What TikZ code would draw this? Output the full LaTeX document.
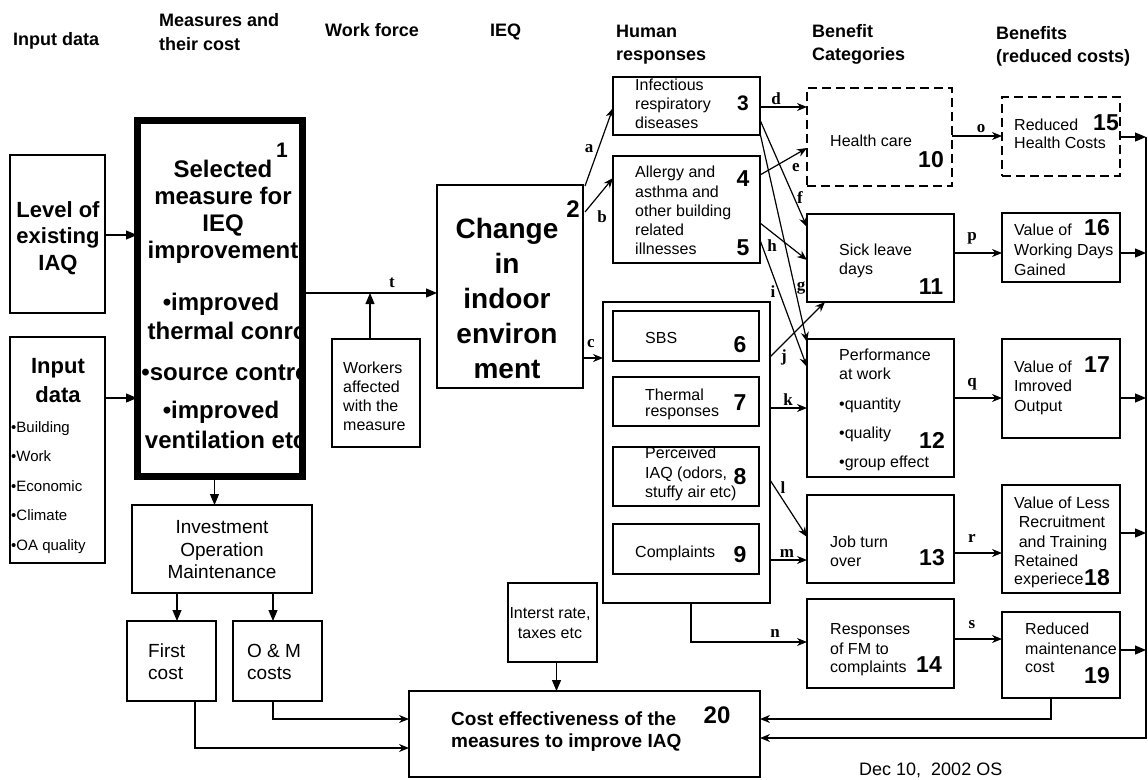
\documentclass[tikz,border=0pt]{standalone}
\usepackage{fontspec}
\setmainfont{Liberation Sans}
\newfontfamily\labfont{Liberation Serif}
\usetikzlibrary{arrows.meta,calc,fit}
\begin{document}
\begin{tikzpicture}[x=1pt,y=-1pt,
  box/.style={draw, line width=2.2pt, inner sep=0pt, outer sep=0pt},
  dbox/.style={box, dash pattern=on 9pt off 5pt},
  ibox/.style={draw, line width=1.6pt, inner sep=0pt, outer sep=0pt},
  hd/.style={font=\bfseries\fontsize{18}{18}\selectfont, anchor=base west, inner sep=0pt},
  sm/.style={font=\fontsize{16}{16}\selectfont, anchor=base west, inner sep=0pt},
  smc/.style={font=\fontsize{16}{16}\selectfont, anchor=base, inner sep=0pt},
  mid/.style={font=\fontsize{19}{19}\selectfont, anchor=base, inner sep=0pt},
  midl/.style={font=\fontsize{19}{19}\selectfont, anchor=base west, inner sep=0pt},
  bigb/.style={font=\bfseries\fontsize{22}{22}\selectfont, anchor=base, inner sep=0pt},
  mb/.style={font=\bfseries\fontsize{24}{24}\selectfont, anchor=base, inner sep=0pt},
  cb/.style={font=\bfseries\fontsize{28}{28}\selectfont, anchor=base, inner sep=0pt},
  num/.style={font=\bfseries\fontsize{23}{23}\selectfont, anchor=base, inner sep=0pt},
  lab/.style={font=\labfont\bfseries\fontsize{17}{17}\selectfont, inner sep=0pt},
  arr/.style={line width=1.2pt, -{Stealth[length=10pt,width=8pt]}},
  tarr/.style={line width=1.2pt, -{Triangle[length=11pt,width=9pt]}},
  ln/.style={line width=1.2pt}
]
\useasboundingbox (0,0) rectangle (1148,779);

% ---------- headers ----------
\node[hd] (h1) at (13,45) {Input data};
\node[hd] (h2a) at (159,26) {Measures and};
\node[hd] (h2b) at (159,50) {their cost};
\node[hd] (h3) at (325,36) {Work force};
\node[hd] (h4) at (490,36) {IEQ};
\node[hd] (h5a) at (616,37) {Human};
\node[hd] (h5b) at (616,60) {responses};
\node[hd] (h6a) at (812,37) {Benefit};
\node[hd] (h6b) at (812,60) {Categories};
\node[hd] (h7a) at (996,39) {Benefits};
\node[hd] (h7b) at (996,62) {(reduced costs)};

% ---------- boxes ----------
\node[box, fit={(10,155)(105,313)}] (L) {};
\node[box, fit={(10,337)(105,563)}] (I) {};
\node[box, line width=7pt, fit={(137,120)(302,476)}] (B1) {};
\node[box, fit={(437,185)(583,388)}] (B2) {};
\node[box, fit={(332,339)(420,447)}] (W) {};
\node[box, fit={(132,505)(312,593)}] (INV) {};
\node[box, fit={(127,621)(216,701)}] (FC) {};
\node[box, fit={(233,621)(322,701)}] (OM) {};
\node[box, fit={(508,583)(597,662)}] (IR) {};
\node[box, fit={(409,691)(760,777)}] (B20) {};
\node[box, fit={(613,77)(760,135)}] (B3) {};
\node[box, fit={(613,156)(760,263)}] (B4) {};
\node[box, fit={(603,302)(770,603)}] (C) {};
\node[ibox, fit={(613,311)(759,361)}] (B6) {};
\node[ibox, fit={(613,377)(759,426)}] (B7) {};
\node[ibox, fit={(613,447)(759,506)}] (B8) {};
\node[ibox, fit={(613,524)(759,574)}] (B9) {};
\node[dbox, fit={(807,88)(952,186)}] (B10) {};
\node[box, fit={(807,214)(954,302)}] (B11) {};
\node[box, fit={(807,339)(954,477)}] (B12) {};
\node[box, fit={(807,495)(954,583)}] (B13) {};
\node[box, fit={(807,599)(954,688)}] (B14) {};
\node[dbox, fit={(1002,97)(1120,176)}] (B15) {};
\node[box, fit={(1002,213)(1120,282)}] (B16) {};
\node[box, fit={(1002,339)(1120,438)}] (B17) {};
\node[box, fit={(1002,485)(1120,593)}] (B18) {};
\node[box, fit={(1002,612)(1120,698)}] (B19) {};

% ---------- texts ----------
\node[bigb] (tL1) at (58,217) {Level of};
\node[bigb] (tL2) at (58,243) {existing};
\node[bigb] (tL3) at (58,270) {IAQ};
\node[bigb] (tI1) at (58,373) {Input};
\node[bigb] (tI2) at (58,402) {data};
\begin{scope}[every node/.style={font=\fontsize{15}{15}\selectfont, anchor=base west, inner sep=0pt}]
\node (tI3) at (11,432) {•Building};
\node (tI4) at (11,461) {•Work};
\node (tI5) at (11,491) {•Economic};
\node (tI6) at (11,520) {•Climate};
\node (tI7) at (11,550) {•OA quality};
\end{scope}

\begin{scope}
\clip (B1.south west) rectangle (B1.north east);
\node[mb] (t11) at (223,177) {Selected};
\node[mb] (t12) at (223,204) {measure for};
\node[mb] (t13) at (223,231) {IEQ};
\node[mb] (t14) at (223,258) {improvement};
\node[mb] (t15) at (221,310) {•improved};
\node[mb] (t16) at (231,339) {thermal conrol};
\node[mb] (t17) at (229,380) {•source control};
\node[mb] (t18) at (221,418) {•improved};
\node[mb] (t19) at (229,448) {ventilation etc.};
\end{scope}
\node[font=\bfseries\fontsize{21}{21}\selectfont, anchor=base, inner sep=0pt] (n1) at (282,157) {1};

\node[cb] (t21) at (507,238) {Change};
\node[cb] (t22) at (507,273) {in};
\node[cb] (t23) at (507,308) {indoor};
\node[cb] (t24) at (507,343) {environ};
\node[cb] (t25) at (507,378) {ment};
\node[font=\bfseries\fontsize{24}{24}\selectfont, anchor=base, inner sep=0pt] (n2) at (573,217) {2};

\node[sm] (tW1) at (343,373) {Workers};
\node[sm] (tW2) at (343,392) {affected};
\node[sm] (tW3) at (343,411) {with the};
\node[sm] (tW4) at (343,430) {measure};

\node[mid] (tV1) at (222,533) {Investment};
\node[mid] (tV2) at (222,556) {Operation};
\node[mid] (tV3) at (222,578) {Maintenance};
\node[midl] (tF1) at (148,657) {First};
\node[midl] (tF2) at (148,679) {cost};
\node[midl] (tO1) at (247,657) {O \& M};
\node[midl] (tO2) at (247,679) {costs};
\node[smc] (tR1) at (550,618) {Interst rate,};
\node[smc] (tR2) at (550,638) {taxes etc};
\node[font=\bfseries\fontsize{19}{19}\selectfont, anchor=base west, inner sep=0pt] (t201) at (451,725) {Cost effectiveness of the};
\node[font=\bfseries\fontsize{19}{19}\selectfont, anchor=base west, inner sep=0pt] (t202) at (451,747) {measures to improve IAQ};
\node[font=\bfseries\fontsize{24}{24}\selectfont, anchor=base, inner sep=0pt] (n20) at (717,723) {20};
\node[font=\fontsize{18}{18}\selectfont, anchor=base west, inner sep=0pt] (date) at (859,775) {Dec 10,\ \ 2002 OS};

\node[sm] (t31) at (635,90) {Infectious};
\node[sm] (t32) at (635,109) {respiratory};
\node[sm] (t33) at (635,128) {diseases};
\node[font=\bfseries\fontsize{21}{21}\selectfont, anchor=base, inner sep=0pt] (n3) at (743,110) {3};
\node[sm] (t41) at (635,177) {Allergy and};
\node[sm] (t42) at (635,197) {asthma and};
\node[sm] (t43) at (635,216) {other building};
\node[sm] (t44) at (635,235) {related};
\node[sm] (t45) at (635,254) {illnesses};
\node[num] (n4) at (743,186) {4};
\node[num] (n5) at (743,255) {5};
\node[sm] (t6) at (645,343) {SBS};
\node[num] (n6) at (740,352) {6};
\node[sm] (t71) at (645,400) {Thermal};
\node[sm] (t72) at (645,416) {responses};
\node[num] (n7) at (740,410) {7};
\node[sm] (t81) at (645,458) {Perceived};
\node[sm] (t82) at (645,478) {IAQ (odors,};
\node[sm] (t83) at (645,497) {stuffy air etc)};
\node[num] (n8) at (740,484) {8};
\node[sm] (t9) at (635,557) {Complaints};
\node[num] (n9) at (740,562) {9};

\node[sm] (t10) at (830,146) {Health care};
\node[num] (n10) at (931,167) {10};
\node[sm] (t111) at (839,255) {Sick leave};
\node[sm] (t112) at (839,274) {days};
\node[num] (n11) at (931,294) {11};
\node[sm] (t121) at (839,360) {Performance};
\node[sm] (t122) at (839,379) {at work};
\node[sm] (t123) at (839,409) {•quantity};
\node[sm] (t124) at (839,438) {•quality};
\node[sm] (t125) at (839,467) {•group effect};
\node[num] (n12) at (932,448) {12};
\node[sm] (t131) at (830,547) {Job turn};
\node[sm] (t132) at (830,566) {over};
\node[num] (n13) at (932,565) {13};
\node[sm] (t141) at (830,634) {Responses};
\node[sm] (t142) at (830,654) {of FM to};
\node[sm] (t143) at (830,672) {complaints};
\node[num] (n14) at (929,672) {14};

\node[sm] (t151) at (1014,130) {Reduced};
\node[sm] (t152) at (1014,148) {Health Costs};
\node[num] (n15) at (1106,130) {15};
\node[sm] (t161) at (1014,235) {Value of};
\node[sm] (t162) at (1014,255) {Working Days};
\node[sm] (t163) at (1014,275) {Gained};
\node[num] (n16) at (1097,235) {16};
\node[sm] (t171) at (1014,372) {Value of};
\node[sm] (t172) at (1014,391) {Imroved};
\node[sm] (t173) at (1014,411) {Output};
\node[num] (n17) at (1097,372) {17};
\node[smc] (t181) at (1062,508) {Value of Less};
\node[smc] (t182) at (1062,527) {Recruitment};
\node[smc] (t183) at (1063,547) {and Training};
\node[sm] (t184) at (1014,566) {Retained};
\node[sm] (t185) at (1014,584) {experiece};
\node[num] (n18) at (1097,585) {18};
\node[sm] (t191) at (1025,634) {Reduced};
\node[sm] (t192) at (1025,654) {maintenance};
\node[sm] (t193) at (1025,672) {cost};
\node[num] (n19) at (1097,683) {19};

% ---------- connectors ----------
\draw[tarr] ($(L.north east)+(0,80)$) coordinate (pL) -- (B1.west |- pL);
\draw[tarr] ($(I.north east)+(0,61)$) coordinate (pI) -- (B1.west |- pI);
\draw[tarr] ($(B1.north east)+(0,173)$) coordinate (pT) -- (B2.west |- pT);
\draw[tarr] ($(W.north)+(-6,0)$) coordinate (pW) -- (pW |- pT);
\draw[tarr] ($(B1.south)+(-5,0)$) coordinate (pB1) -- (pB1 |- INV.north);
\draw[tarr] ($(INV.south west)+(45,0)$) coordinate (pV1) -- (pV1 |- FC.north);
\draw[tarr] ($(INV.south west)+(141,0)$) coordinate (pV2) -- (pV2 |- OM.north);
\draw[tarr] ($(IR.south)+(4,0)$) coordinate (pR) -- (pR |- B20.north);
\draw[arr] ($(OM.south west)+(40,0)$) |- ($(B20.north west)+(0,28)$);
\draw[arr] ($(FC.south west)+(68,0)$) |- ($(B20.north west)+(0,57)$);
\draw[arr] ($(B19.south west)+(49,0)$) |- ($(B20.north east)+(0,28)$);
\coordinate (RT) at (1146,137);
\coordinate (RB) at (1146,738);
\draw[arr] (RT) -- (RB) -- (B20.east |- RB);
\draw[tarr] ($(B15.north east)+(0,40)$) coordinate (o15) -- (RT |- o15);
\draw[tarr] ($(B16.north east)+(0,40)$) coordinate (o16) -- (RT |- o16);
\draw[tarr] ($(B17.north east)+(0,59)$) coordinate (o17) -- (RT |- o17);
\draw[tarr] ($(B18.north east)+(0,48)$) coordinate (o18) -- (RT |- o18);
\draw[tarr] ($(B19.north east)+(0,38)$) coordinate (o19) -- (RT |- o19);

\draw[arr] ($(B2.north east)+(2,1)$) -- ($(B3.north west)+(0,31)$);
\draw[arr] ($(B2.north east)+(2,27)$) -- ($(B4.north west)+(0,22)$);
\draw[arr] ($(B2.north east)+(0,173)$) coordinate (pc) -- (C.west |- pc);
\draw[arr] ($(B3.north east)+(0,30)$) coordinate (pd) -- (B10.west |- pd);
\draw[arr] ($(B4.north east)+(0,19)$) -- ($(B10.north west)+(0,60)$);
\draw[arr] ($(B3.north east)+(0,43)$) -- ($(B11.north west)+(0,13)$);
\draw[arr] ($(B3.north east)+(0,56)$) -- ($(B12.north west)+(0,3)$);
\draw[arr] ($(B4.north east)+(0,67)$) -- ($(B11.north west)+(0,46)$);
\draw[arr] ($(B4.north east)+(0,84)$) -- ($(B12.north west)+(0,28)$);
\draw[arr] ($(C.north east)+(0,55)$) -- ($(B11.south west)+(18,0)$);
\draw[arr] ($(C.north east)+(0,106)$) coordinate (pk) -- (B12.west |- pk);
\draw[arr] ($(C.north east)+(0,178)$) -- ($(B13.north west)+(0,42)$);
\draw[arr] ($(C.north east)+(0,258)$) coordinate (pm) -- (B13.west |- pm);
\draw[arr] ($(C.south west)+(88,0)$) |- ($(B14.north west)+(0,43)$);
\draw[arr] ($(B10.north east)+(0,48)$) coordinate (po) -- (B15.west |- po);
\draw[arr] ($(B11.north east)+(0,39)$) coordinate (pp) -- (B16.west |- pp);
\draw[arr] ($(B12.north east)+(0,59)$) coordinate (pq) -- (B17.west |- pq);
\draw[arr] ($(B13.north east)+(0,58)$) coordinate (pr) -- (B18.west |- pr);
\draw[arr] ($(B14.north east)+(0,40)$) coordinate (ps) -- (B19.west |- ps);

% ---------- connector labels ----------
\node[lab] (la) at (589,149) {a};
\node[lab] (lb) at (602,217) {b};
\node[lab] (lc) at (591,344) {c};
\node[lab] (ld) at (776,99) {d};
\node[lab] (le) at (796,168) {e};
\node[lab] (lf) at (800,198) {f};
\node[lab] (lg) at (801,288) {g};
\node[lab] (lh) at (772,246) {h};
\node[lab] (li) at (773,292) {i};
\node[lab] (lj) at (784,357) {j};
\node[lab] (lk) at (788,400) {k};
\node[lab] (ll) at (783,488) {l};
\node[lab] (lm) at (787,553) {m};
\node[lab] (ln) at (775,633) {n};
\node[lab] (lo) at (981,129) {o};
\node[lab] (lp) at (972,238) {p};
\node[lab] (lq) at (972,384) {q};
\node[lab] (lr) at (972,538) {r};
\node[lab] (ls) at (972,625) {s};
\node[lab] (lt) at (392,283) {t};
\end{tikzpicture}
\end{document}
